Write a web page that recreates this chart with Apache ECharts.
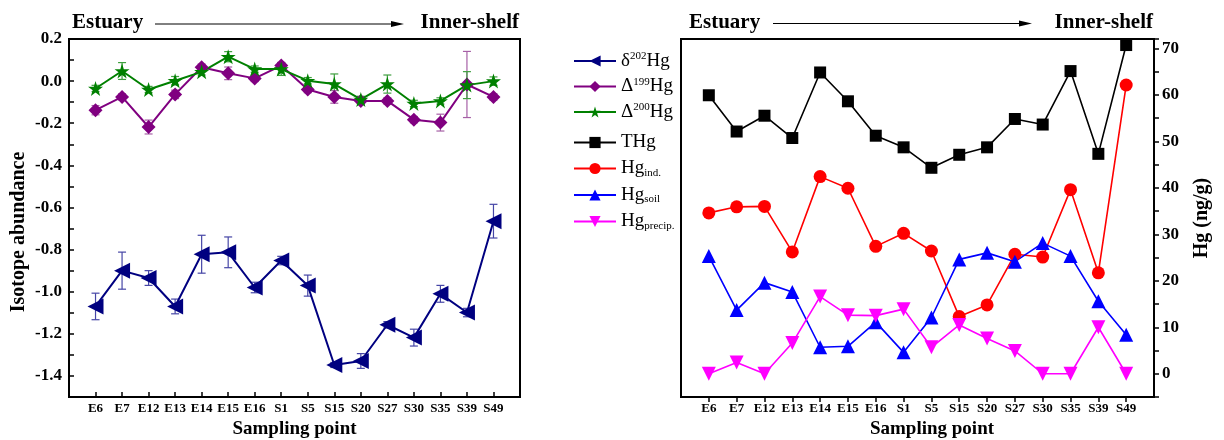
<!DOCTYPE html>
<html>
<head>
<meta charset="utf-8">
<script src="https://cdn.jsdelivr.net/npm/echarts@6/dist/echarts.min.js"></script>
<style>
  html, body { margin: 0; padding: 0; background: #fff; }
  #chart { width: 1224px; height: 440px; }
</style>
</head>
<body>
<div id="chart"></div>
<script>
// sampling points, estuary -> inner-shelf
var sites = ['E6', 'E7', 'E12', 'E13', 'E14', 'E15', 'E16', 'S1', 'S5', 'S15', 'S20', 'S27', 'S30', 'S35', 'S39', 'S49'];

// isotope values (left panel) and their error bars
var d202 = [-1.07, -0.90, -0.935, -1.07, -0.822, -0.813, -0.98, -0.852, -0.971, -1.348, -1.329, -1.157, -1.218, -1.01, -1.099, -0.665];
var d202Err = [0.063, 0.088, 0.035, 0.035, 0.09, 0.073, 0.025, 0.02, 0.05, 0.012, 0.035, 0.015, 0.04, 0.04, 0.02, 0.08];
var D199 = [-0.138, -0.075, -0.218, -0.063, 0.066, 0.037, 0.013, 0.074, -0.040, -0.075, -0.094, -0.094, -0.183, -0.197, -0.016, -0.075];
var D199Err = [0.022, 0.015, 0.033, 0.02, 0.015, 0.03, 0.015, 0.015, 0.015, 0.03, 0.015, 0.015, 0.015, 0.04, 0.157, 0.015];
var D200 = [-0.035, 0.048, -0.040, 0.002, 0.044, 0.116, 0.057, 0.057, 0.002, -0.014, -0.087, -0.014, -0.106, -0.094, -0.019, 0.0];
var D200Err = [0.015, 0.04, 0.015, 0.02, 0.015, 0.024, 0.015, 0.03, 0.015, 0.048, 0.015, 0.043, 0.015, 0.015, 0.064, 0.02];

// Hg concentrations (right panel), ng/g
var THg = [59.9, 52.1, 55.5, 50.7, 64.8, 58.6, 51.2, 48.7, 44.3, 47.1, 48.7, 54.8, 53.6, 65.1, 47.3, 70.7];
var HgInd = [34.6, 35.9, 36.0, 26.2, 42.4, 39.9, 27.4, 30.2, 26.4, 12.3, 14.8, 25.7, 25.1, 39.6, 21.7, 62.1];
var HgSoil = [25.3, 13.7, 19.6, 17.6, 5.7, 5.9, 11.1, 4.6, 12.1, 24.6, 26.0, 24.1, 28.1, 25.3, 15.6, 8.4];
var HgPrecip = [0, 2.4, 0, 6.6, 16.6, 12.6, 12.5, 13.9, 5.7, 10.5, 7.6, 4.9, 0, 0, 10.0, 0];

var FONT = '"Liberation Serif", "DejaVu Serif", serif';
var STAR = 'path://M50,0L61.2,34.6L97.6,34.5L68.1,55.9L79.4,90.5L50,69L20.6,90.5L31.9,55.9L2.4,34.5L38.8,34.6Z';

var legendText = {
  'd202': '{b|δ}{sup|202}{b|Hg}',
  'D199': '{b|Δ}{sup|199}{b|Hg}',
  'D200': '{b|Δ}{sup|200}{b|Hg}',
  'THg': '{b|THg}',
  'HgInd': '{b|Hg}{sub|ind.}',
  'HgSoil': '{b|Hg}{sub|soil}',
  'HgPrecip': '{b|Hg}{sub|precip.}'
};

function pairs(arr) {
  return arr.map(function (v, i) { return [i, v]; });
}
function errPairs(arr, err) {
  return arr.map(function (v, i) { return [i, v, err[i]]; });
}
var siteIdx = sites.map(function (s, i) { return i; });

function errRender(params, api) {
  var x = api.value(0), y = api.value(1), e = api.value(2);
  var top = api.coord([x, y + e]);
  var bot = api.coord([x, y - e]);
  var w = 4;
  var st = { stroke: api.visual('color'), lineWidth: 1.2 };
  return {
    type: 'group',
    children: [
      { type: 'line', shape: { x1: top[0], y1: top[1], x2: bot[0], y2: bot[1] }, style: st },
      { type: 'line', shape: { x1: top[0] - w, y1: top[1], x2: top[0] + w, y2: top[1] }, style: st },
      { type: 'line', shape: { x1: bot[0] - w, y1: bot[1], x2: bot[0] + w, y2: bot[1] }, style: st }
    ]
  };
}

var richLegend = {
  b: { fontFamily: FONT, fontSize: 19, color: '#000', lineHeight: 20 },
  sup: { fontFamily: FONT, fontSize: 11, color: '#000', lineHeight: 12, verticalAlign: 'top' },
  sub: { fontFamily: FONT, fontSize: 11, color: '#000', lineHeight: 10, verticalAlign: 'bottom' }
};

function xAxisCfg(gridIndex, inside) {
  return {
    type: 'value', gridIndex: gridIndex, min: -1, max: 16, interval: 1,
    name: 'Sampling point', nameLocation: 'middle', nameGap: 20,
    nameTextStyle: { fontFamily: FONT, fontSize: 19, fontWeight: 'bold', color: '#000',
      padding: gridIndex === 1 ? [0, 0, 0, 29] : 0 },
    axisLine: { onZero: false, lineStyle: { color: '#000', width: 2 } },
    axisTick: { inside: inside, length: 5, customValues: siteIdx, lineStyle: { color: '#000', width: 1.5 } },
    axisLabel: {
      fontFamily: FONT, fontSize: 13, fontWeight: 'bold', color: '#000', margin: 5,
      customValues: siteIdx,
      formatter: function (v) { return sites[v] || ''; }
    },
    splitLine: { show: false }
  };
}

var chart = echarts.init(document.getElementById('chart'));

var option = {
  animation: false,
  backgroundColor: '#fff',
  grid: [
    { left: 69, top: 39, width: 451, height: 358, outerBoundsMode: 'none', containLabel: false,
      show: true, borderColor: '#000', borderWidth: 2, backgroundColor: 'transparent' },
    { left: 681, top: 39, width: 473, height: 358, outerBoundsMode: 'none', containLabel: false,
      show: true, borderColor: '#000', borderWidth: 2, backgroundColor: 'transparent' }
  ],
  legend: [
    {
      data: ['d202', 'D199', 'D200'], orient: 'vertical', left: 573, top: 51, padding: 0,
      itemWidth: 42, itemHeight: 14, itemGap: 6,
      formatter: function (n) { return legendText[n]; },
      textStyle: { rich: richLegend }
    },
    {
      data: ['THg', 'HgInd', 'HgSoil', 'HgPrecip'], orient: 'vertical', left: 573, top: 133, padding: 0,
      itemWidth: 42, itemHeight: 14, itemGap: 7,
      formatter: function (n) { return legendText[n]; },
      textStyle: { rich: richLegend }
    }
  ],
  xAxis: [xAxisCfg(0, true), xAxisCfg(1, false)],
  yAxis: [
    {
      type: 'value', gridIndex: 0, min: -1.5, max: 0.2, interval: 0.1,
      name: 'Isotope abundance', nameLocation: 'middle', nameGap: 40, nameRotate: 90,
      nameTextStyle: { fontFamily: FONT, fontSize: 20, fontWeight: 'bold', color: '#000', padding: [0, 28, 0, 0] },
      axisLine: { show: true, onZero: false, lineStyle: { color: '#000', width: 2 } },
      axisTick: { inside: true, length: 5, lineStyle: { color: '#000', width: 1.5 } },
      axisLabel: {
        fontFamily: FONT, fontSize: 17, fontWeight: 'bold', color: '#000', margin: 7,
        formatter: function (v) {
          var k = Math.round(v * 10);
          return k % 2 === 0 ? (k / 10).toFixed(1) : '';
        }
      },
      splitLine: { show: false }
    },
    {
      type: 'value', gridIndex: 1, position: 'right', min: -5, max: 72, interval: 5,
      name: 'Hg (ng/g)', nameLocation: 'middle', nameGap: 38, nameRotate: 90,
      nameTextStyle: { fontFamily: FONT, fontSize: 20, fontWeight: 'bold', color: '#000' },
      axisLine: { show: true, onZero: false, lineStyle: { color: '#000', width: 2 } },
      axisTick: { inside: false, length: 5, lineStyle: { color: '#000', width: 1.5 } },
      axisLabel: {
        fontFamily: FONT, fontSize: 17, fontWeight: 'bold', color: '#000', margin: 8,
        formatter: function (v) { return v % 10 === 0 ? String(v) : ''; }
      },
      splitLine: { show: false }
    }
  ],
  graphic: [
    { type: 'text', x: 72, y: 23, style: { text: 'Estuary', font: 'bold 21px ' + FONT, fill: '#000', align: 'left', verticalAlign: 'middle' } },
    { type: 'line', shape: { x1: 155, y1: 24, x2: 396, y2: 24 }, style: { stroke: '#000', lineWidth: 1 } },
    { type: 'polygon', shape: { points: [[391, 21], [404, 24], [391, 27]] }, style: { fill: '#000' } },
    { type: 'text', x: 519, y: 23, style: { text: 'Inner-shelf', font: 'bold 21px ' + FONT, fill: '#000', align: 'right', verticalAlign: 'middle' } },
    { type: 'text', x: 689, y: 23, style: { text: 'Estuary', font: 'bold 21px ' + FONT, fill: '#000', align: 'left', verticalAlign: 'middle' } },
    { type: 'line', shape: { x1: 773, y1: 23.5, x2: 1024, y2: 23.5 }, style: { stroke: '#000', lineWidth: 1 } },
    { type: 'polygon', shape: { points: [[1019, 20.5], [1032, 23.5], [1019, 26.5]] }, style: { fill: '#000' } },
    { type: 'text', x: 1153, y: 23, style: { text: 'Inner-shelf', font: 'bold 21px ' + FONT, fill: '#000', align: 'right', verticalAlign: 'middle' } }
  ],
  series: [
    // error bars first so markers sit on top
    { type: 'custom', name: 'err202', xAxisIndex: 0, yAxisIndex: 0, renderItem: errRender,
      itemStyle: { color: '#4646a6' }, data: errPairs(d202, d202Err), z: 1 },
    { type: 'custom', name: 'err199', xAxisIndex: 0, yAxisIndex: 0, renderItem: errRender,
      itemStyle: { color: '#a660a6' }, data: errPairs(D199, D199Err), z: 1 },
    { type: 'custom', name: 'err200', xAxisIndex: 0, yAxisIndex: 0, renderItem: errRender,
      itemStyle: { color: '#3f9f3f' }, data: errPairs(D200, D200Err), z: 1 },
    { type: 'line', name: 'd202', xAxisIndex: 0, yAxisIndex: 0, data: pairs(d202),
      symbol: 'triangle', symbolRotate: 90, symbolSize: 16,
      itemStyle: { color: '#000080' }, lineStyle: { color: '#000080', width: 2 }, z: 3 },
    { type: 'line', name: 'D199', xAxisIndex: 0, yAxisIndex: 0, data: pairs(D199),
      symbol: 'diamond', symbolSize: 14,
      itemStyle: { color: '#800080' }, lineStyle: { color: '#800080', width: 2 }, z: 3 },
    { type: 'line', name: 'D200', xAxisIndex: 0, yAxisIndex: 0, data: pairs(D200),
      symbol: STAR, symbolSize: 15,
      itemStyle: { color: '#008000' }, lineStyle: { color: '#008000', width: 2 }, z: 3 },
    { type: 'line', name: 'THg', xAxisIndex: 1, yAxisIndex: 1, data: pairs(THg),
      symbol: 'rect', symbolSize: 12,
      itemStyle: { color: '#000' }, lineStyle: { color: '#000', width: 1.6 }, z: 3 },
    { type: 'line', name: 'HgInd', xAxisIndex: 1, yAxisIndex: 1, data: pairs(HgInd),
      symbol: 'circle', symbolSize: 13,
      itemStyle: { color: '#ff0000' }, lineStyle: { color: '#ff0000', width: 1.6 }, z: 3 },
    { type: 'line', name: 'HgSoil', xAxisIndex: 1, yAxisIndex: 1, data: pairs(HgSoil),
      symbol: 'triangle', symbolSize: 14,
      itemStyle: { color: '#0000ff' }, lineStyle: { color: '#0000ff', width: 1.6 }, z: 3 },
    { type: 'line', name: 'HgPrecip', xAxisIndex: 1, yAxisIndex: 1, data: pairs(HgPrecip),
      symbol: 'triangle', symbolRotate: 180, symbolSize: 14,
      itemStyle: { color: '#ff00ff' }, lineStyle: { color: '#ff00ff', width: 1.6 }, z: 3 }
  ]
};

chart.setOption(option);
</script>
</body>
</html>
